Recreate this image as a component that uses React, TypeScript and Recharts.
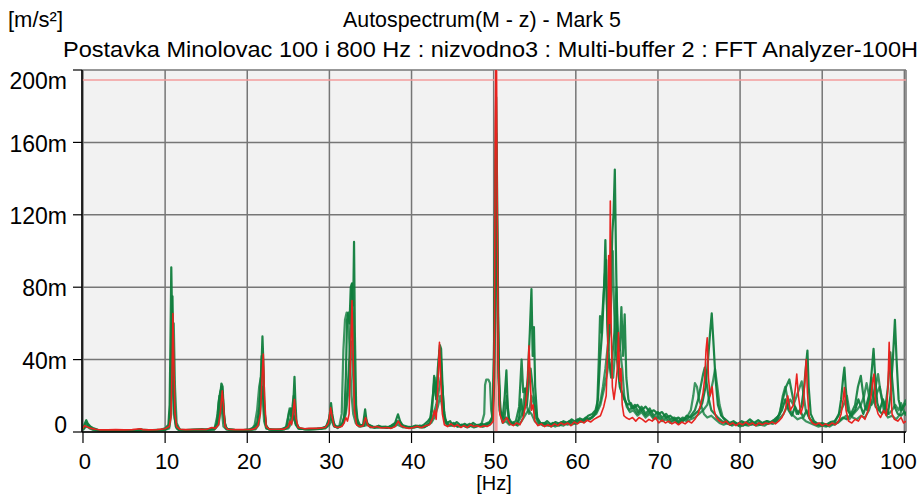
import { CartesianGrid, Line, LineChart, ReferenceLine, XAxis, YAxis } from "recharts";

// Plot colours picked off the analyzer screenshot.
const GREEN = "#0f7d3c";
const RED = "#e8231f";
const CURSOR = "#f39c9c";
const FONT = "'Liberation Sans', Arial, sans-serif";

const HZ_TICKS = [0, 10, 20, 30, 40, 50, 60, 70, 80, 90, 100];
const M_TICKS = [0, 40, 80, 120, 160, 200];
const MARK_LEVEL = 194.5; // horizontal cursor [m]
const MARK_HZ = 50.3; // vertical cursor [Hz]

// [Hz, m/s² * 1e-3] pairs
const G1: [number, number][] = [
  [0, 2], [0.2, 4.5], [0.4, 6.5], [0.6, 4.5], [0.9, 3], [1.3, 2], [1.8, 1.2], [2.5, 0.9], [3.5, 0.8], [4.5, 0.9],
  [5.5, 0.8], [6.5, 1.1], [7, 1.6], [7.4, 0.9], [8.5, 1], [9.5, 1.3], [10, 2], [10.4, 4], [10.55, 15], [10.65, 50],
  [10.75, 91], [10.85, 62], [10.95, 30], [11.1, 10], [11.3, 3], [11.6, 1.2], [12.5, 1], [13.5, 1.3], [14.5, 1.6], [15.3, 1.2],
  [15.8, 2.2], [16.2, 2.5], [16.5, 8], [16.7, 20], [16.85, 26.8], [17, 25], [17.15, 10], [17.35, 2.5], [17.7, 1.3], [18.5, 1],
  [19.5, 1.1], [20.3, 1.5], [20.8, 2.5], [21.2, 5], [21.5, 14], [21.7, 32], [21.85, 52.8], [21.95, 40], [22.1, 12], [22.3, 3],
  [22.7, 1.5], [23.5, 1.3], [24.3, 1.5], [24.8, 3], [25.1, 11], [25.3, 13], [25.5, 7], [25.65, 20], [25.75, 30.5], [25.85, 18],
  [26, 5], [26.3, 2], [27, 1.6], [28, 1.8], [29, 2], [29.6, 3], [30, 8], [30.2, 16], [30.35, 10], [30.6, 3.5],
  [31, 2.5], [31.5, 3.5], [31.8, 8], [32, 30], [32.15, 62], [32.3, 66], [32.45, 60], [32.6, 80], [32.75, 82], [32.9, 70],
  [33, 105], [33.1, 55], [33.25, 15], [33.45, 5], [33.8, 3.5], [34.1, 4], [34.35, 12.5], [34.55, 5], [35, 3], [35.5, 2.5],
  [36, 3.5], [36.5, 2.5], [37, 2.2], [37.5, 3.5], [38, 5], [38.35, 9.8], [38.6, 6], [39, 3], [39.5, 2.5], [40, 2.8],
  [40.5, 3.5], [41, 2.5], [41.5, 4], [42, 6], [42.3, 8], [42.6, 20], [42.8, 30], [43, 18], [43.2, 35], [43.45, 48],
  [43.6, 46], [43.8, 22], [44, 8], [44.3, 5], [44.7, 6], [45, 3.5], [45.5, 5.5], [46, 3.5], [46.5, 4.5], [47, 3],
  [47.5, 5], [48, 3.5], [48.5, 4.5], [49, 4], [49.5, 5], [49.85, 8], [50.05, 40], [50.15, 120], [50.3, 185], [50.45, 120],
  [50.6, 40], [50.8, 12], [51.1, 8], [51.35, 20], [51.55, 34], [51.7, 15], [51.9, 6], [52.3, 5], [52.8, 4], [53.1, 8],
  [53.35, 18], [53.55, 9], [53.85, 16], [54.15, 30], [54.4, 55], [54.6, 79], [54.75, 42], [54.9, 58], [55.05, 25], [55.3, 8],
  [55.7, 5], [56, 4], [56.5, 6], [57, 4], [57.5, 5.5], [58, 4.5], [58.5, 6], [59, 5], [59.5, 7], [60, 5.5],
  [60.5, 7.5], [61, 6.5], [61.5, 9], [62, 10], [62.4, 12], [62.7, 18], [62.95, 40], [63.2, 55], [63.45, 80], [63.6, 106],
  [63.75, 75], [63.95, 45], [64.2, 70], [64.45, 110], [64.6, 121], [64.75, 145], [64.9, 95], [65.1, 40], [65.35, 25], [65.6, 22],
  [65.9, 18], [66.3, 15], [66.7, 16], [67, 13], [67.5, 15], [68, 12], [68.5, 14], [69, 11], [69.5, 12], [70, 10],
  [70.5, 11], [71, 8], [71.5, 9], [72, 7], [72.5, 8], [73, 6], [73.5, 9], [74, 8], [74.5, 10], [75, 12],
  [75.4, 16], [75.8, 25], [76.1, 40], [76.35, 55], [76.55, 65.5], [76.75, 50], [77, 30], [77.3, 15], [77.7, 9], [78.2, 7],
  [78.7, 5], [79.2, 6], [79.7, 4.5], [80.2, 6], [80.7, 5], [81.2, 7], [81.7, 5], [82.2, 6.5], [82.7, 5], [83.2, 6],
  [83.7, 5.5], [84.2, 7], [84.7, 9], [85.1, 12], [85.5, 18], [85.9, 12], [86.3, 9], [86.7, 14], [87.1, 10], [87.5, 15],
  [87.8, 25], [88.05, 38], [88.2, 45], [88.35, 25], [88.6, 10], [89, 6], [89.5, 4.5], [90, 5], [90.5, 4], [91, 5.5],
  [91.5, 6], [92, 9], [92.3, 18], [92.55, 30], [92.7, 35.6], [92.85, 25], [93.1, 12], [93.5, 9], [94, 12], [94.4, 18],
  [94.7, 14], [95, 10], [95.4, 15], [95.8, 22], [96.05, 35], [96.25, 46], [96.45, 30], [96.7, 16], [97, 12], [97.4, 18],
  [97.7, 14], [98, 10], [98.3, 20], [98.6, 40], [98.85, 62], [99.05, 40], [99.3, 18], [99.6, 12], [99.9, 14], [100.2, 16],
];

const G2: [number, number][] = [
  [0, 1.5], [0.2, 3.5], [0.4, 5], [0.6, 4], [0.9, 2.5], [1.3, 1.5], [1.8, 1], [2.5, 0.8], [3.5, 0.9], [4.5, 0.8],
  [5.5, 1], [6.5, 0.9], [7.5, 1.2], [8.5, 0.9], [9.5, 1.1], [10, 1.5], [10.45, 3], [10.6, 12], [10.75, 40], [10.9, 75],
  [11, 45], [11.15, 15], [11.35, 4], [11.7, 1.3], [12.5, 1], [13.5, 1.2], [14.5, 1.1], [15.5, 1.8], [16, 2], [16.3, 5],
  [16.5, 16], [16.7, 22], [16.9, 25], [17.05, 18], [17.25, 5], [17.5, 1.8], [18.5, 1.2], [19.5, 1], [20.5, 1.3], [21, 2],
  [21.3, 5], [21.55, 18], [21.75, 42], [21.9, 38], [22.05, 15], [22.25, 4], [22.6, 1.5], [23.5, 1.2], [24.5, 1.4], [25, 3],
  [25.3, 8], [25.5, 14], [25.65, 20], [25.8, 12], [26, 4], [26.4, 1.8], [27.5, 1.5], [28.5, 1.7], [29.5, 2.2], [29.9, 5],
  [30.15, 12], [30.35, 8], [30.6, 3], [31.2, 3], [31.6, 5], [32, 12], [32.3, 30], [32.55, 50], [32.75, 82], [32.9, 60],
  [33.05, 25], [33.3, 8], [33.7, 4], [34.2, 3.5], [34.4, 8], [34.7, 4], [35.3, 3], [36, 2.5], [36.8, 3], [37.5, 2.5],
  [38.3, 6], [38.7, 4], [39.5, 3], [40.3, 2.5], [41, 3.5], [41.6, 3], [42.2, 5], [42.5, 12], [42.75, 31], [42.95, 20],
  [43.2, 30], [43.4, 45], [43.6, 38], [43.85, 15], [44.1, 6], [44.6, 4], [45.1, 5], [45.6, 3], [46.1, 4], [46.6, 3.5],
  [47.1, 4.5], [47.6, 3], [48.1, 4], [48.6, 3], [49, 4.5], [49.5, 5.5], [49.9, 9], [50.05, 50], [50.2, 130], [50.3, 165],
  [50.45, 90], [50.6, 30], [50.85, 10], [51.3, 7], [51.6, 20], [51.8, 8], [52.2, 5], [52.7, 6], [53.1, 14], [53.4, 40],
  [53.6, 22], [53.85, 24], [54.05, 15], [54.3, 28], [54.5, 35], [54.75, 25], [55, 15], [55.3, 7], [55.7, 4.5], [56.2, 5],
  [56.7, 3.5], [57.2, 5], [57.7, 4], [58.2, 5.5], [58.7, 4.5], [59.2, 6], [59.7, 5], [60.2, 7], [60.7, 6], [61.2, 8],
  [61.7, 7], [62.2, 9], [62.6, 13], [62.8, 40], [62.95, 64], [63.1, 55], [63.3, 70], [63.5, 85], [63.7, 95], [63.85, 60],
  [64.05, 40], [64.3, 30], [64.5, 45], [64.7, 55], [64.95, 80], [65.15, 50], [65.35, 45], [65.55, 69], [65.75, 42], [65.95, 65],
  [66.15, 30], [66.4, 18], [66.8, 13], [67.2, 15], [67.6, 11], [68, 14], [68.5, 10], [69, 13], [69.5, 9], [70, 11],
  [70.5, 8], [71, 10], [71.5, 7], [72, 8], [72.5, 6], [73, 8], [73.5, 7], [74, 9], [74.5, 12], [74.9, 18],
  [75.2, 25], [75.5, 32], [75.7, 35.6], [75.9, 28], [76.2, 18], [76.5, 12], [76.9, 10], [77.3, 8], [77.8, 6], [78.3, 5],
  [78.8, 4], [79.3, 5], [79.8, 3.5], [80.3, 5], [80.8, 4], [81.3, 5.5], [81.8, 4], [82.3, 5], [82.8, 4.5], [83.3, 6],
  [83.8, 5], [84.3, 6.5], [84.8, 10], [85.2, 18], [85.6, 25], [86, 29], [86.3, 22], [86.6, 15], [86.9, 10], [87.3, 12],
  [87.7, 8], [88.1, 12], [88.5, 7], [89, 5], [89.5, 4], [90, 4.5], [90.5, 3.5], [91, 5], [91.5, 4], [92, 6],
  [92.5, 8], [93, 7], [93.5, 10], [94, 15], [94.35, 25], [94.7, 31], [94.95, 22], [95.2, 14], [95.5, 12], [95.8, 20],
  [96, 30], [96.2, 20], [96.5, 14], [96.9, 12], [97.3, 10], [97.7, 14], [98, 25], [98.3, 44], [98.5, 30], [98.8, 14],
  [99.2, 10], [99.6, 9], [100, 11], [100.2, 10],
];

const G3: [number, number][] = [
  [0, 1], [0.25, 2.5], [0.5, 3], [0.8, 2], [1.2, 1.2], [2, 0.8], [3, 0.7], [4, 0.8], [5, 0.7], [6, 0.9],
  [7, 1.2], [8, 0.8], [9, 0.9], [10, 1.2], [10.5, 2], [10.75, 10], [10.9, 35], [11.05, 60], [11.2, 25], [11.4, 5],
  [11.8, 1.2], [13, 1], [14, 1.2], [15, 1], [16, 1.5], [16.4, 10], [16.6, 20], [16.75, 20], [16.9, 12], [17.1, 3],
  [17.5, 1.3], [18.5, 1], [19.5, 1], [20.5, 1.2], [20.9, 4], [21.2, 12], [21.45, 25], [21.65, 30], [21.85, 20], [22.05, 6],
  [22.3, 2], [23, 1.2], [24, 1.3], [24.7, 2.5], [24.95, 8], [25.15, 13], [25.35, 9], [25.6, 10], [25.85, 5], [26.2, 2],
  [27, 1.5], [28, 1.6], [29, 1.8], [29.7, 3], [30.1, 8], [30.4, 6], [30.8, 3], [31.2, 3], [31.5, 10], [31.7, 45],
  [31.9, 62], [32.1, 66], [32.3, 64], [32.5, 40], [32.7, 20], [32.9, 10], [33.2, 5], [33.6, 3], [34, 3.5], [34.5, 5],
  [35, 2.5], [36, 3], [37, 2.5], [38, 4], [38.5, 6], [39, 3], [40, 2.2], [40.8, 3], [41.5, 2.5], [42, 4],
  [42.4, 6], [42.7, 10], [43, 15], [43.3, 22], [43.55, 30], [43.75, 25], [44, 10], [44.3, 4], [44.8, 3.5], [45.3, 4.5],
  [45.8, 3], [46.3, 3.5], [46.8, 2.5], [47.3, 4], [47.8, 3], [48.3, 3.5], [48.8, 3], [49.3, 4], [49.8, 6], [50.05, 30],
  [50.2, 100], [50.35, 140], [50.5, 70], [50.7, 15], [51.1, 6], [51.5, 8], [51.9, 5], [52.4, 4], [52.9, 5], [53.3, 8],
  [53.6, 12], [53.8, 24], [54.05, 14], [54.3, 10], [54.6, 20], [54.85, 16], [55.1, 8], [55.5, 5], [56, 3.5], [56.5, 4.5],
  [57, 3], [57.5, 4], [58, 3.5], [58.5, 5], [59, 4], [59.5, 5.5], [60, 4.5], [60.5, 6], [61, 5.5], [61.5, 7],
  [62, 8], [62.5, 11], [63, 17], [63.3, 25], [63.6, 35], [63.9, 48], [64.15, 55], [64.35, 80], [64.5, 100], [64.65, 70],
  [64.85, 45], [65.05, 38], [65.3, 28], [65.55, 22], [65.8, 20], [66.1, 16], [66.5, 12], [67, 14], [67.5, 10], [68, 12],
  [68.5, 9], [69, 11], [69.5, 8], [70, 9], [70.5, 7], [71, 8], [71.5, 6], [72, 7], [72.5, 5], [73, 7],
  [73.5, 6], [74, 7], [74.5, 8], [75, 10], [75.5, 12], [76, 15], [76.4, 22], [76.7, 28], [76.95, 34.7], [77.2, 26],
  [77.5, 15], [77.9, 8], [78.4, 5], [78.9, 4], [79.4, 5], [79.9, 4], [80.4, 3.5], [80.9, 5], [81.4, 4], [81.9, 5],
  [82.4, 4], [82.9, 5], [83.4, 4.5], [83.9, 5.5], [84.4, 6], [84.9, 8], [85.3, 10], [85.7, 14], [86.1, 18], [86.5, 15],
  [86.9, 20], [87.2, 24], [87.5, 28], [87.75, 20], [88, 12], [88.4, 8], [88.9, 5], [89.4, 4], [89.9, 3.5], [90.4, 4],
  [90.9, 3], [91.4, 4.5], [91.9, 5], [92.4, 7], [92.9, 9], [93.3, 7], [93.8, 10], [94.2, 12], [94.7, 15], [95.1, 20],
  [95.4, 27], [95.7, 20], [96, 15], [96.4, 18], [96.7, 22], [97, 25], [97.3, 18], [97.7, 12], [98.1, 10], [98.5, 12],
  [98.9, 15], [99.3, 12], [99.6, 16], [99.9, 12], [100.2, 9],
];

const G4: [number, number][] = [
  [0, 1.5], [0.25, 3], [0.5, 3.5], [0.8, 2.5], [1.2, 1.5], [2, 0.9], [3, 0.8], [4, 0.9], [5, 0.8], [6, 1],
  [7, 0.9], [8, 1.1], [9, 0.9], [10, 1.2], [10.5, 3], [10.7, 15], [10.85, 45], [11, 30], [11.15, 8], [11.4, 2],
  [12, 1], [13, 0.9], [14, 1.1], [15, 1], [16, 1.3], [16.5, 4], [16.75, 12], [16.95, 18], [17.15, 8], [17.4, 2],
  [18, 1], [19, 1.1], [20, 1], [21, 1.5], [21.4, 4], [21.7, 18], [21.9, 25], [22.1, 10], [22.35, 2], [23, 1.1],
  [24, 1.2], [25, 2], [25.4, 5], [25.65, 9], [25.9, 4], [26.3, 1.8], [27.5, 1.4], [28.5, 1.6], [29.5, 2], [30, 4],
  [30.25, 7], [30.5, 3.5], [31, 2.2], [31.6, 4], [32, 10], [32.3, 22], [32.5, 40], [32.65, 50], [32.85, 35], [33.1, 12],
  [33.4, 4], [33.8, 3], [34.3, 3.5], [34.8, 4], [35.5, 2.2], [36.5, 2.8], [37.5, 2.2], [38.3, 4], [39, 2.5], [40, 2.5],
  [40.7, 3.5], [41.3, 2.5], [41.9, 3.5], [42.4, 5], [42.8, 8], [43.2, 14], [43.5, 20], [43.8, 12], [44.1, 5], [44.6, 3.5],
  [45.1, 4], [45.6, 3], [46.1, 4], [46.6, 3], [47.1, 3.5], [47.6, 2.5], [48.1, 3.5], [48.5, 4], [48.85, 10], [48.95, 26],
  [49.1, 29], [49.35, 29], [49.55, 27], [49.7, 12], [49.85, 8], [50.05, 25], [50.2, 90], [50.35, 120], [50.5, 60], [50.7, 12],
  [51.1, 5], [51.5, 6], [51.9, 4], [52.4, 5], [52.9, 3.5], [53.4, 6], [53.8, 9], [54.2, 12], [54.6, 10], [55, 6],
  [55.5, 4], [56, 5], [56.5, 3.5], [57, 4.5], [57.5, 3], [58, 4], [58.5, 3.5], [59, 5], [59.5, 4], [60, 5],
  [60.5, 5.5], [61, 6.5], [61.5, 7], [62, 8.5], [62.5, 10], [63, 15], [63.5, 25], [63.8, 32], [64.05, 40], [64.3, 32],
  [64.55, 30], [64.8, 45], [65, 60], [65.2, 48], [65.4, 45], [65.65, 35], [65.9, 20], [66.2, 14], [66.6, 11], [67, 12],
  [67.5, 9], [68, 11], [68.5, 8], [69, 10], [69.5, 7], [70, 8], [70.5, 6], [71, 7], [71.5, 5], [72, 6.5],
  [72.5, 5], [73, 6], [73.5, 8], [74, 12], [74.3, 20], [74.5, 27], [74.75, 25], [75, 18], [75.3, 14], [75.6, 10],
  [76, 8], [76.5, 9], [77, 7], [77.5, 5], [78, 4], [78.5, 5], [79, 3.5], [79.5, 4.5], [80, 3], [80.5, 4],
  [81, 3.5], [81.5, 4.5], [82, 3.5], [82.5, 4], [83, 3.5], [83.5, 5], [84, 4.5], [84.5, 6], [84.9, 12], [85.2, 20],
  [85.5, 25], [85.8, 18], [86.1, 12], [86.5, 9], [87, 7], [87.5, 8], [88, 6], [88.5, 5], [89, 4], [89.5, 3],
  [90, 3.5], [90.5, 3], [91, 4], [91.5, 5], [91.9, 9], [92.3, 12], [92.7, 16], [93, 20], [93.3, 12], [93.7, 8],
  [94.2, 7], [94.7, 9], [95.2, 8], [95.7, 12], [96.1, 18], [96.5, 25], [96.8, 32], [97.1, 22], [97.5, 12], [98, 8],
  [98.5, 9], [99, 7], [99.5, 10], [99.8, 14], [100.2, 18],
];

const RED_TRACE: [number, number][] = [
  [0, 2], [0.2, 3.5], [0.4, 3], [0.7, 2.5], [1, 2], [1.5, 1.5], [2, 1.2], [3, 1.2], [4, 1.3], [5, 1.2],
  [6, 1.3], [7, 1.8], [7.3, 1.3], [8, 1.2], [9, 1.3], [10, 1.8], [10.5, 3], [10.7, 8], [10.85, 35], [10.95, 65.5],
  [11.05, 40], [11.2, 10], [11.4, 3], [11.8, 1.5], [12.5, 1.3], [13.5, 1.4], [14.5, 1.5], [15, 1.4], [15.7, 2.5], [16.1, 2],
  [16.5, 4], [16.75, 12], [16.95, 22.7], [17.1, 15], [17.3, 3], [17.6, 1.5], [18.5, 1.3], [19.5, 1.3], [20.5, 1.4], [21, 2],
  [21.3, 3.5], [21.6, 10], [21.8, 30], [21.95, 43], [22.1, 20], [22.3, 3], [22.7, 1.6], [23.5, 1.5], [24.5, 1.6], [25, 3],
  [25.2, 6], [25.4, 4], [25.6, 12], [25.75, 18], [25.9, 8], [26.2, 2.5], [27, 1.8], [27.5, 2], [28.5, 2], [29.5, 2.5],
  [29.9, 5], [30.15, 13.5], [30.35, 8], [30.6, 3], [31, 2.5], [31.5, 3], [31.8, 5], [32, 8], [32.2, 6], [32.4, 10],
  [32.6, 45], [32.75, 72.6], [32.9, 40], [33.05, 12], [33.3, 4], [33.7, 3], [34.1, 3.5], [34.4, 8], [34.7, 3.5], [35.2, 2.5],
  [35.8, 3], [36.3, 2.2], [37, 2.5], [37.5, 2], [38, 3], [38.4, 6], [38.7, 3.5], [39.2, 2.5], [39.7, 2], [40.2, 2.5],
  [40.7, 3.2], [41.2, 2.4], [41.7, 3.5], [42.2, 4], [42.6, 8], [42.8, 12], [43, 7], [43.2, 25], [43.4, 49.5], [43.55, 30],
  [43.75, 10], [44, 4], [44.4, 3], [44.8, 4.5], [45.2, 3], [45.6, 4], [46, 2.5], [46.4, 3.5], [46.8, 2.5], [47.2, 4],
  [47.6, 3], [48, 3.5], [48.4, 2.8], [48.8, 3.5], [49.2, 3], [49.6, 4], [49.95, 6], [50.1, 60], [50.2, 170], [50.3, 215],
  [50.4, 150], [50.55, 40], [50.75, 10], [51.1, 5], [51.6, 8], [52, 4.5], [52.4, 3.5], [52.8, 5], [53.2, 4], [53.6, 8],
  [53.9, 15], [54.1, 25], [54.3, 47.6], [54.45, 30], [54.6, 12], [54.8, 15], [55, 6], [55.4, 3.5], [55.8, 4.5], [56.2, 3],
  [56.6, 4], [57, 3], [57.4, 4.5], [57.8, 3.5], [58.2, 5], [58.6, 4], [59, 5], [59.4, 3.5], [59.8, 5.5], [60.2, 4.5],
  [60.6, 6], [61, 5], [61.4, 6.5], [61.8, 5.5], [62.2, 7], [62.6, 8], [63, 9], [63.4, 14], [63.7, 20], [63.9, 50],
  [64, 97.5], [64.1, 60], [64.2, 127.6], [64.3, 60], [64.45, 25], [64.65, 18], [64.85, 25], [65.05, 35], [65.2, 55], [65.35, 28],
  [65.5, 35], [65.65, 15], [65.85, 9], [66.1, 8], [66.5, 7], [66.9, 8], [67.3, 6], [67.7, 8], [68.1, 7], [68.5, 5.5],
  [68.9, 7], [69.3, 6], [69.7, 8], [70.1, 5], [70.5, 6.5], [70.9, 5], [71.3, 6], [71.7, 4.5], [72.1, 5.5], [72.5, 4],
  [72.9, 5.5], [73.3, 4.5], [73.7, 6], [74.1, 5], [74.5, 7], [74.9, 10], [75.2, 15], [75.5, 21.8], [75.7, 30], [75.85, 45],
  [76, 52], [76.15, 30], [76.35, 20], [76.6, 25], [76.85, 12], [77.1, 8], [77.5, 6], [77.9, 5], [78.3, 6], [78.7, 4],
  [79.1, 5], [79.5, 3.5], [79.9, 5], [80.3, 4], [80.7, 5.5], [81.1, 4], [81.5, 5], [81.9, 3.5], [82.3, 5], [82.7, 4],
  [83.1, 5], [83.5, 4.5], [83.9, 5.5], [84.3, 4.5], [84.7, 6], [85.1, 8], [85.5, 12], [85.8, 20], [86.1, 12], [86.5, 15],
  [86.75, 25], [86.9, 32], [87.1, 20], [87.4, 10], [87.7, 15], [87.9, 30], [88.05, 40], [88.2, 22], [88.4, 8], [88.8, 5],
  [89.2, 4], [89.6, 5], [90, 3.5], [90.4, 4.5], [90.8, 3.5], [91.2, 5], [91.6, 4], [92, 6], [92.3, 10], [92.55, 18],
  [92.7, 24.5], [92.9, 12], [93.2, 6], [93.6, 5], [94, 7], [94.4, 6], [94.8, 9], [95.2, 7], [95.6, 12], [95.9, 18],
  [96.15, 28], [96.3, 32], [96.5, 15], [96.8, 10], [97.1, 8], [97.5, 12], [97.8, 9], [98, 25], [98.15, 49.5], [98.3, 30],
  [98.5, 10], [98.8, 7], [99.2, 6], [99.6, 8], [99.9, 5], [100.2, 6],
];

const toRows = (pts: [number, number][]) => pts.map(([f, v]) => ({ f, v }));

const TRACES = [
  { key: "g4", rows: toRows(G4), color: GREEN, width: 2.2, opacity: 0.8 },
  { key: "g3", rows: toRows(G3), color: GREEN, width: 2.2, opacity: 0.8 },
  { key: "g2", rows: toRows(G2), color: GREEN, width: 2.2, opacity: 0.9 },
  { key: "g1", rows: toRows(G1), color: GREEN, width: 2.2, opacity: 0.95 },
  { key: "red", rows: toRows(RED_TRACE), color: RED, width: 1.6, opacity: 1 },
];

function YTick({ y, payload }: any) {
  const v = payload.value;
  // analyzer keeps the end labels inside the plot frame
  const shift = v === 200 ? 11 : v === 0 ? -7 : 1;
  return (
    <text x={67} y={y + shift} dy="0.36em" textAnchor="end" fontSize={23} fill="#000" fontFamily={FONT}>
      {v === 0 ? "0" : `${v}m`}
    </text>
  );
}

function XTick({ x, payload }: any) {
  const v = payload.value;
  return (
    <text x={v === 100 ? x - 6 : x + 2} y={469} textAnchor="middle" fontSize={22} fill="#000" fontFamily={FONT}>
      {v}
    </text>
  );
}

export default function App() {
  return (
    <div style={{ position: "absolute", left: 0, top: 0, width: 918, height: 495, background: "#fff", fontFamily: FONT }}>
      <LineChart width={918} height={495} margin={{ top: 70, right: 12, left: 0, bottom: 0 }}>
        <CartesianGrid stroke="#767676" strokeWidth={1.5} fill="#f2f2f2" />
        <XAxis
          dataKey="f"
          type="number"
          domain={[-0.12, 100.2]}
          ticks={HZ_TICKS}
          allowDataOverflow
          height={63}
          tickSize={11}
          tick={<XTick />}
          axisLine={{ stroke: "#000", strokeWidth: 1.5 }}
          tickLine={{ stroke: "#000", strokeWidth: 1.2 }}
        />
        <YAxis
          dataKey="v"
          type="number"
          domain={[0, 200]}
          ticks={M_TICKS}
          allowDataOverflow
          width={82}
          tickSize={9}
          tick={<YTick />}
          axisLine={{ stroke: "#000", strokeWidth: 1.5 }}
          tickLine={{ stroke: "#000", strokeWidth: 1.2 }}
        />
        <ReferenceLine y={MARK_LEVEL} stroke={CURSOR} strokeWidth={1.5} />
        <ReferenceLine x={MARK_HZ} stroke={CURSOR} strokeWidth={3} />
        {TRACES.map((t) => (
          <Line
            key={t.key}
            data={t.rows}
            dataKey="v"
            type="linear"
            stroke={t.color}
            strokeWidth={t.width}
            strokeOpacity={t.opacity}
            strokeLinejoin="round"
            dot={false}
            activeDot={false}
            isAnimationActive={false}
          />
        ))}
      </LineChart>
      <svg width={918} height={70} style={{ position: "absolute", left: 0, top: 0, pointerEvents: "none" }}>
        <text x={8} y={27} fontSize={22} fontFamily={FONT} fill="#000">
          [m/s²]
        </text>
        <text x={482} y={27} fontSize={22} fontFamily={FONT} fill="#000" textAnchor="middle" textLength={278} lengthAdjust="spacingAndGlyphs">
          Autospectrum(M - z) - Mark 5
        </text>
        <text x={63} y={57} fontSize={22} fontFamily={FONT} fill="#000" textLength={855} lengthAdjust="spacingAndGlyphs">
          Postavka Minolovac 100 i 800 Hz : nizvodno3 : Multi-buffer 2 : FFT Analyzer-100H
        </text>
      </svg>
      <svg width={918} height={25} style={{ position: "absolute", left: 0, top: 470, pointerEvents: "none" }}>
        <text x={494} y={20} fontSize={20} fontFamily={FONT} fill="#000" textAnchor="middle">
          [Hz]
        </text>
      </svg>
    </div>
  );
}
